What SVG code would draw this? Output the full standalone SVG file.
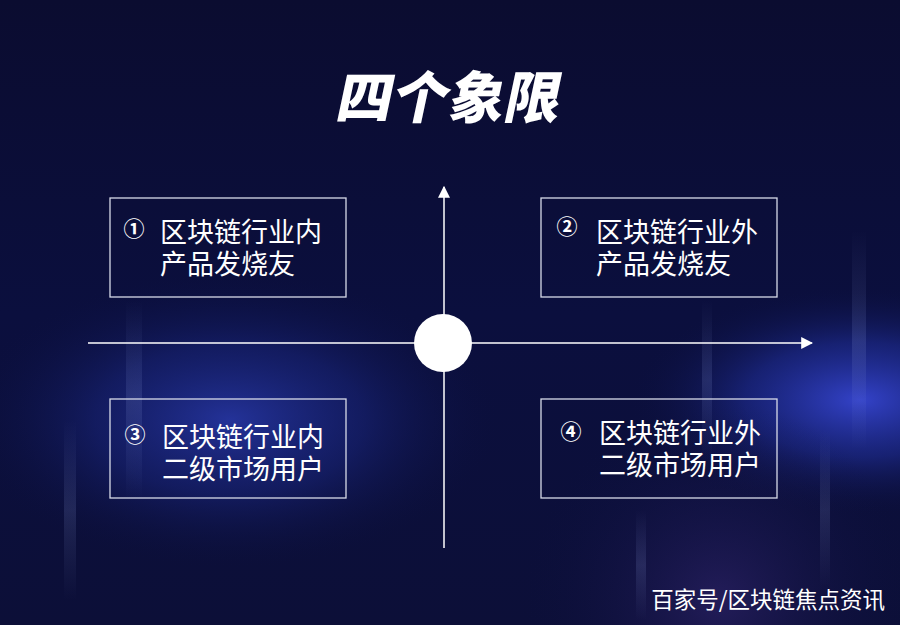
<svg xmlns="http://www.w3.org/2000/svg" width="900" height="625" viewBox="0 0 900 625">
<defs>
<linearGradient id="bg" x1="0" y1="0" x2="0" y2="1">
<stop offset="0" stop-color="#0b0c30"/>
<stop offset="0.5" stop-color="#0b0f3e"/>
<stop offset="1" stop-color="#0c0f38"/>
</linearGradient>
<radialGradient id="g1" cx="230" cy="420" r="270" gradientUnits="userSpaceOnUse" gradientTransform="translate(230 420) scale(1 0.55) translate(-230 -420)">
<stop offset="0" stop-color="#2a3bb0" stop-opacity="0.8"/>
<stop offset="0.5" stop-color="#1c2a8a" stop-opacity="0.45"/>
<stop offset="1" stop-color="#0b0f3e" stop-opacity="0"/>
</radialGradient>
<radialGradient id="g2" cx="860" cy="400" r="230" gradientUnits="userSpaceOnUse" gradientTransform="translate(860 400) scale(1 0.5) translate(-860 -400)">
<stop offset="0" stop-color="#3848d8" stop-opacity="0.9"/>
<stop offset="0.5" stop-color="#2333a8" stop-opacity="0.5"/>
<stop offset="1" stop-color="#0b0f3e" stop-opacity="0"/>
</radialGradient>
<radialGradient id="g3" cx="720" cy="600" r="200" gradientUnits="userSpaceOnUse">
<stop offset="0" stop-color="#3a2a7a" stop-opacity="0.5"/>
<stop offset="1" stop-color="#0b0f3e" stop-opacity="0"/>
</radialGradient>
<linearGradient id="streak" x1="0" y1="0" x2="0" y2="1">
<stop offset="0" stop-color="#8fa0e0" stop-opacity="0"/>
<stop offset="0.5" stop-color="#8fa0e0" stop-opacity="0.16"/>
<stop offset="1" stop-color="#8fa0e0" stop-opacity="0"/>
</linearGradient>
<marker id="arrow" viewBox="0 0 10 10" refX="9" refY="5" markerWidth="12" markerHeight="12" markerUnits="userSpaceOnUse" orient="auto">
<path d="M0,0 L10,5 L0,10 z" fill="#ffffff"/>
</marker>
</defs>
<style>
.box{fill:none;stroke:#d8dbe8;stroke-width:1.3}
.axis{stroke:#ffffff;stroke-width:1.5;fill:none}
.t{font-family:"Noto Sans CJK SC","Noto Sans",sans-serif;fill:#ffffff;font-size:27px}
.n{font-family:"Noto Sans CJK SC","DejaVu Sans",sans-serif;fill:#ffffff;font-size:21px;font-weight:bold}
</style>
<rect width="900" height="625" fill="url(#bg)"/>
<rect width="900" height="625" fill="url(#g1)"/>
<rect width="900" height="625" fill="url(#g2)"/>
<rect width="900" height="625" fill="url(#g3)"/>
<rect x="126" y="300" width="16" height="200" fill="url(#streak)"/>
<rect x="64" y="420" width="12" height="180" fill="url(#streak)"/>
<rect x="852" y="230" width="14" height="220" fill="url(#streak)"/>
<rect x="820" y="430" width="10" height="160" fill="url(#streak)"/>
<rect x="702" y="300" width="10" height="160" fill="url(#streak)"/>
<rect x="636" y="510" width="10" height="110" fill="url(#streak)"/>

<text x="446" y="118" text-anchor="middle" font-family="Noto Sans CJK SC,sans-serif" font-weight="900" font-size="56" fill="#ffffff" transform="translate(446 118) skewX(-12) translate(-446 -118)">四个象限</text>

<g id="connectors">
<line class="axis" x1="444" y1="548" x2="444" y2="187" marker-end="url(#arrow)"/>
<line class="axis" x1="88" y1="343" x2="812" y2="343" marker-end="url(#arrow)"/>
</g>
<g id="center"><circle cx="443" cy="343" r="29" fill="#ffffff"/></g>

<g id="q1">
<rect class="box" x="110" y="198" width="236" height="99"/>
<text class="n" x="134" y="236" text-anchor="middle">①</text>
<text class="t"><tspan x="160" y="242">区块链行业内</tspan><tspan x="160" y="274">产品发烧友</tspan></text>
</g>
<g id="q2">
<rect class="box" x="541" y="198" width="236" height="99"/>
<text class="n" x="567" y="234" text-anchor="middle">②</text>
<text class="t"><tspan x="596" y="242">区块链行业外</tspan><tspan x="596" y="274">产品发烧友</tspan></text>
</g>
<g id="q3">
<rect class="box" x="110" y="399" width="236" height="99"/>
<text class="n" x="135" y="442" text-anchor="middle">③</text>
<text class="t"><tspan x="162" y="447">区块链行业内</tspan><tspan x="162" y="479">二级市场用户</tspan></text>
</g>
<g id="q4">
<rect class="box" x="541" y="399" width="236" height="99"/>
<text class="n" x="571" y="439" text-anchor="middle">④</text>
<text class="t"><tspan x="599" y="443">区块链行业外</tspan><tspan x="599" y="475">二级市场用户</tspan></text>
</g>
<text x="885" y="608" text-anchor="end" font-family="Noto Sans CJK SC,sans-serif" font-size="22.5" fill="#ffffff">百家号/区块链焦点资讯</text>
</svg>
